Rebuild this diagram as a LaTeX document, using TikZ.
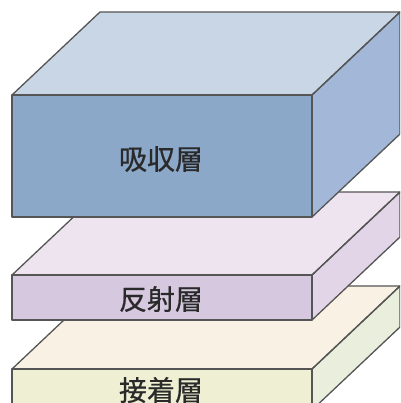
\documentclass[tikz,border=0pt]{standalone}
\usepackage{fontspec}
\newfontfamily\jpfont[FakeBold=0.6]{Noto Sans CJK JP}
\definecolor{edgec}{HTML}{555555}
\definecolor{txtc}{HTML}{2A2A2A}
\definecolor{aTop}{HTML}{C9D6E6}
\definecolor{aFront}{HTML}{8CA8C8}
\definecolor{aSide}{HTML}{A3B8D8}
\definecolor{bTop}{HTML}{EEE4EF}
\definecolor{bFront}{HTML}{D6C9DF}
\definecolor{bSide}{HTML}{E2D5E8}
\definecolor{cTop}{HTML}{F9F2E4}
\definecolor{cFront}{HTML}{EEEFD3}
\definecolor{cSide}{HTML}{E9EFDC}
\tikzset{
  face/.style={draw=edgec, line width=1.3pt, line join=round},
  lbl/.style={font=\jpfont\fontsize{28}{30}\selectfont, text=txtc, inner sep=0pt}
}
% #1 top y, #2 bottom y, #3 top colour, #4 front colour, #5 side colour
\newcommand\layerbox[5]{%
  \fill[#3] (12,#1) -- (100,#1-83) -- (400,#1-83) -- (312,#1) -- cycle;
  \fill[#5] (312,#1) -- (400,#1-83) -- (400,#2-83) -- (312,#2) -- cycle;
  \fill[#4] (12,#1) rectangle (312,#2);
  \draw[face] (12,#1) -- (100,#1-83) -- (400,#1-83) -- (312,#1) -- cycle;
  \draw[face] (312,#1) -- (400,#1-83) -- (400,#2-83) -- (312,#2) -- cycle;
  \draw[face] (12,#1) rectangle (312,#2);
}
\begin{document}
\begin{tikzpicture}[x=1pt,y=-1pt]
\useasboundingbox (0,0) rectangle (400,403);
\clip (0,0) rectangle (400,403);
\fill[white] (0,0) rectangle (400,403);
\layerbox{369}{410}{cTop}{cFront}{cSide}
\layerbox{275}{320}{bTop}{bFront}{bSide}
\layerbox{95}{217}{aTop}{aFront}{aSide}
\node[lbl] (absorb) at (161,159) {吸収層};
\node[lbl] (reflect) at (161,299) {反射層};
\node[lbl] (adhesive) at (161,390) {接着層};
\end{tikzpicture}
\end{document}
